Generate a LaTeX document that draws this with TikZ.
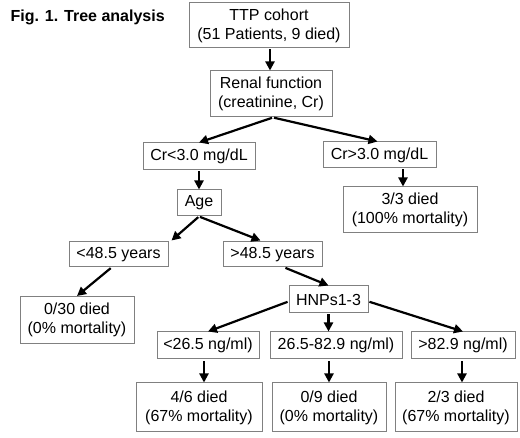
\documentclass[tikz,border=0pt]{standalone}
\usepackage{fontspec}
\setmainfont{Liberation Sans}
\usetikzlibrary{arrows.meta}
\definecolor{boxgray}{RGB}{128,128,128}
\tikzset{
  box/.style={draw=boxgray, line width=1pt, inner sep=0pt, align=center,
    font=\fontsize{16}{19}\selectfont, fill=white},
  arr/.style={line width=2.2pt, -{Triangle[length=9pt,width=9pt]}, shorten <=1pt}
}
\begin{document}
\begin{tikzpicture}[x=1pt,y=-1pt]
\useasboundingbox (0,0) rectangle (520,438);
\node[anchor=base west, font=\bfseries\fontsize{16}{19}\selectfont] (title) at (7,21.5) {Fig. 1. Tree analysis};
\node[box, minimum width=160pt, minimum height=45pt] (ttp) at (269,25.5) {TTP cohort\\(51 Patients, 9 died)};
\node[box, minimum width=122pt, minimum height=46pt] (renal) at (271,94) {Renal function\\(creatinine, Cr)};
\node[box, minimum width=112pt, minimum height=27pt] (crl) at (199,156.5) {Cr<3.0 mg/dL};
\node[box, minimum width=113pt, minimum height=26pt] (crg) at (379.5,155) {Cr>3.0 mg/dL};
\node[box, minimum width=134pt, minimum height=46pt] (d33) at (410,210) {3/3 died\\(100\% mortality)};
\node[box, minimum width=44pt, minimum height=26pt] (age) at (199,203) {Age};
\node[box, minimum width=99pt, minimum height=25pt] (lt48) at (118.5,254.5) {<48.5 years};
\node[box, minimum width=99pt, minimum height=25pt] (gt48) at (272.5,254.5) {>48.5 years};
\node[box, minimum width=114pt, minimum height=47pt] (d030) at (77,320) {0/30 died\\(0\% mortality)};
\node[box, minimum width=79pt, minimum height=27pt] (hnp) at (328.5,299.5) {HNPs1-3};
\node[box, minimum width=102pt, minimum height=27pt] (n1) at (208,345.5) {<26.5 ng/ml)};
\node[box, minimum width=132pt, minimum height=27pt] (n2) at (336,345.5) {26.5-82.9 ng/ml)};
\node[box, minimum width=104pt, minimum height=27pt] (n3) at (463,345.5) {>82.9 ng/ml)};
\node[box, minimum width=126pt, minimum height=49pt] (d46) at (199,407.5) {4/6 died\\(67\% mortality)};
\node[box, minimum width=114pt, minimum height=49pt] (d09) at (329,407.5) {0/9 died\\(0\% mortality)};
\node[box, minimum width=122pt, minimum height=49pt] (d23) at (456,407.5) {2/3 died\\(67\% mortality)};

\draw[arr] ([xshift=1pt]ttp.south) -- ([xshift=1pt]ttp.south |- renal.north);
\draw[arr] ([xshift=2pt]renal.south) -- (crl.north);
\draw[arr] ([xshift=2pt]renal.south) -- ([xshift=-2pt]crg.north);
\draw[arr] (crl.south) -- (age.north);
\draw[arr] ([xshift=23.5pt]crg.south) -- ([xshift=23.5pt]crg.south |- d33.north);
\draw[arr] (age.south) -- ([xshift=3pt,yshift=1pt]lt48.north east);
\draw[arr] (age.south) -- ([xshift=-12pt,yshift=1pt]gt48.north);
\draw[arr] ([xshift=-7pt]lt48.south) -- (d030.north);
\draw[arr] ([xshift=12pt]gt48.south) -- (hnp.north);
\draw[arr] ([yshift=-2pt]hnp.west) -- (n1.north);
\draw[arr] (hnp.south) -- (hnp.south |- n2.north);
\draw[arr] ([yshift=-2pt]hnp.east) -- (n3.north);
\draw[arr, shorten <=2pt] ([xshift=-4pt]n1.south) -- ([xshift=-4pt]n1.south |- d46.north);
\draw[arr, shorten <=2pt] (n2.south -| d09.north) -- (d09.north);
\draw[arr, shorten <=2pt] ([xshift=-1pt]n3.south) -- ([xshift=-1pt]n3.south |- d23.north);
\end{tikzpicture}
\end{document}
